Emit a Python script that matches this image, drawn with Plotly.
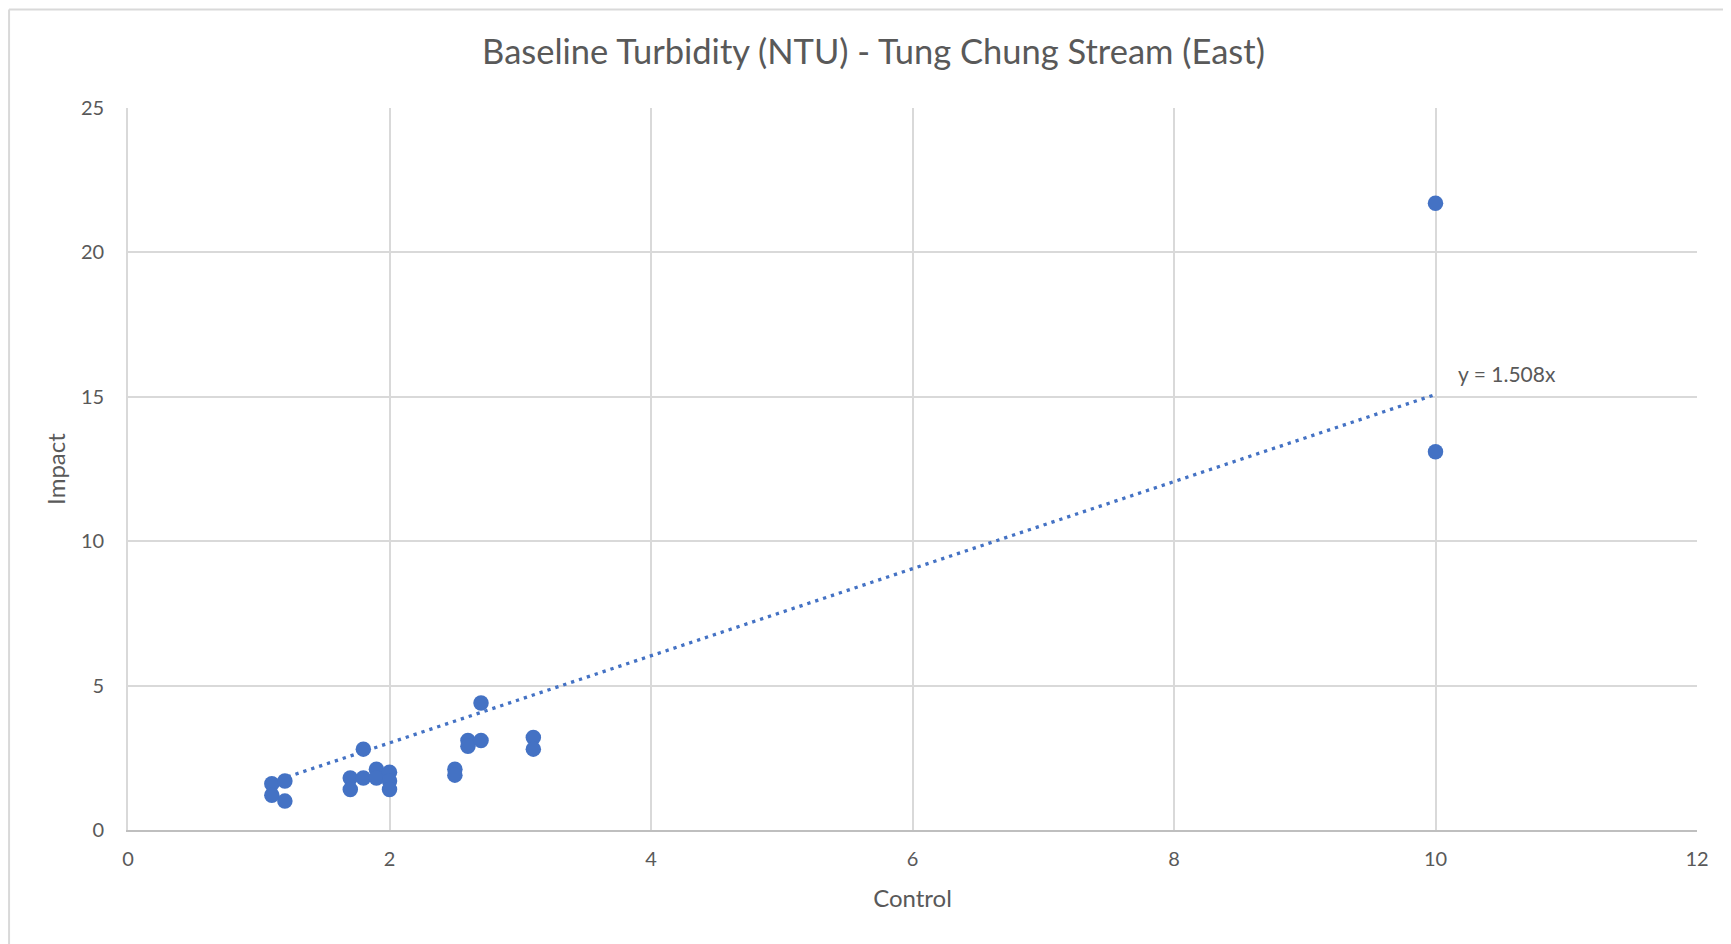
import plotly.graph_objects as go

# Data
control = [1.1, 1.1, 1.2, 1.2, 1.7, 1.7, 1.8, 1.8, 1.9, 1.9, 2.0, 2.0, 2.0,
           2.5, 2.5, 2.6, 2.6, 2.7, 2.7, 3.1, 3.1, 10.0, 10.0]
impact = [1.6, 1.2, 1.7, 1.0, 1.8, 1.4, 2.8, 1.8, 2.1, 1.8, 2.0, 1.7, 1.4,
          2.1, 1.9, 3.1, 2.9, 3.1, 4.4, 3.2, 2.8, 21.7, 13.1]
trend_slope = 1.508
x_ticks = [0, 2, 4, 6, 8, 10, 12]
y_ticks = [0, 5, 10, 15, 20, 25]

title_text = "Baseline Turbidity (NTU) - Tung Chung Stream (East)"
FONT = "Lato, 'Open Sans', sans-serif"
TXT = "#595959"
GRID = "#D9D9D9"
BLUE = "#4472C4"

trend_x = [min(control), max(control)]
trend_y = [trend_slope * v for v in trend_x]

fig = go.Figure()
fig.add_trace(go.Scatter(
    x=trend_x, y=trend_y, mode="lines",
    line=dict(color=BLUE, width=3.3, dash="3.3px,5px"),
    hoverinfo="skip", showlegend=False))
fig.add_trace(go.Scatter(
    x=control, y=impact, mode="markers",
    marker=dict(color=BLUE, size=15.5, line=dict(width=0)),
    showlegend=False))

fig.add_annotation(x=10.55, y=15.82, xref="x", yref="y",
                   text=f"y = {trend_slope:.3f}x", showarrow=False,
                   font=dict(family=FONT, size=21, color=TXT))

# outer chart-area border (top and left edges visible)
fig.add_shape(type="line", xref="paper", yref="paper",
              x0=-0.0758, x1=1.2, y0=1.1364, y1=1.1364,
              line=dict(color=GRID, width=2))
fig.add_shape(type="line", xref="paper", yref="paper",
              x0=-0.0758, x1=-0.0758, y0=-0.3, y1=1.1364,
              line=dict(color=GRID, width=2))

fig.update_layout(
    width=1731, height=944,
    margin=dict(l=120, r=42, t=100, b=122),
    paper_bgcolor="white", plot_bgcolor="white",
    font=dict(family=FONT, color=TXT),
    title=dict(text=title_text, x=0.5, xref="container", xanchor="center",
               y=1 - 44 / 944, yref="container", yanchor="middle",
               font=dict(family=FONT, size=34.5, color=TXT)),
)
fig.update_xaxes(
    range=[0, 12], tickvals=x_ticks, showgrid=True, gridcolor=GRID, gridwidth=1.7,
    showline=True, linecolor="#BFBFBF", linewidth=2, zeroline=False,
    ticks="", ticklabelstandoff=10,
    tickfont=dict(family=FONT, size=20, color=TXT),
    title=dict(text="Control", standoff=21, font=dict(family=FONT, size=24, color=TXT)))
fig.update_yaxes(
    range=[0, 25], tickvals=y_ticks, showgrid=True, gridcolor=GRID, gridwidth=1.7,
    showline=True, linecolor=GRID, linewidth=1.7, zeroline=False,
    ticks="", ticklabelstandoff=18,
    tickfont=dict(family=FONT, size=20, color=TXT),
    title=dict(text="Impact", standoff=9, font=dict(family=FONT, size=24, color=TXT)))

fig.write_html("out.html")
